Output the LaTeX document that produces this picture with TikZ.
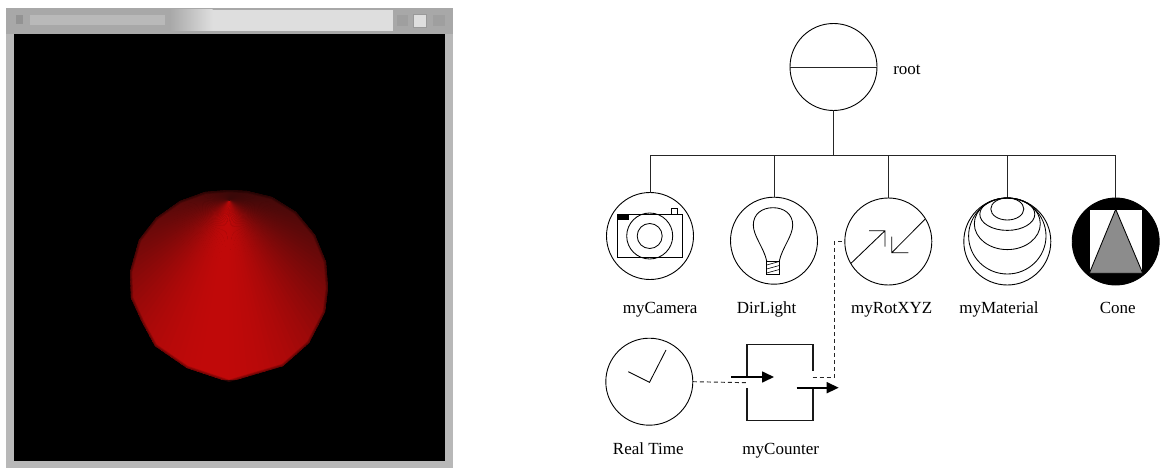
\documentclass[tikz,border=0pt]{standalone}
\usepackage{fontspec}
\setmainfont{Liberation Serif}
\usetikzlibrary{arrows.meta,calc}
\definecolor{frameg}{gray}{0.72}
\definecolor{titlel}{gray}{0.87}
\definecolor{titled}{gray}{0.66}
\definecolor{conedark}{rgb}{0.25,0.03,0.03}
\tikzset{
  x=1pt,y=-1pt,
  inode/.style={circle,draw=black,line width=0.9pt,minimum size=87pt,inner sep=0pt,outer sep=0pt},
  wire/.style={draw=black!85,line width=0.95pt},
  icon/.style={draw=black,line width=0.85pt},
  lbl/.style={font=\fontsize{17}{20}\selectfont,anchor=base,inner sep=0pt},
  dashwire/.style={draw=black!85,line width=0.95pt,dash pattern=on 4pt off 3pt},
  boxline/.style={draw=black!90,line width=1.7pt},
  flow/.style={draw=black,line width=1.6pt,-{Triangle[length=12pt,width=11pt]}},
}
\begin{document}
\begin{tikzpicture}
\useasboundingbox (0,0) rectangle (1161,468);
% ---- viewer window ----
\fill[frameg] (6,8) rectangle (453,468);
\fill[titled] (6,8) rectangle (453,34);
\fill[titlel] (212,10) rectangle (393,31);
\shade[left color=titled,right color=titlel] (170,10) rectangle (212.5,31);
\fill[black] (14,34) rectangle (445,461);
\fill[gray!85] (16,15) rectangle (23,24);
\fill[gray!55] (30,15) rectangle (165,25);
\fill[gray!75] (397,15) rectangle (408,26);
\draw[gray!80,fill=titlel] (413,14) rectangle (426,27);
\fill[gray!75] (433,15) rectangle (445,26);
% cone: fan of wedges around the apex, clipped to the base disc
\begin{scope}
\clip (229,190) -- (247,191) -- (272,197) -- (296,212) -- (315,235) -- (326,262) -- (328,288) -- (325,312) -- (309,343) -- (283,366) -- (229,382) -- (187,368) -- (155,346) -- (142,322) -- (131,298) -- (130,272) -- (139,240) -- (156,218) -- (180,201) -- (205,192) -- cycle;
\fill[conedark] (125,185) rectangle (335,390);
\foreach \a in {0,2,...,358}{
  \pgfmathsetmacro{\s}{sin(\a+1)}
  \pgfmathsetmacro{\c}{cos(\a+1)}
  \pgfmathsetmacro{\t}{acos(\s)/62}
  \pgfmathsetmacro{\r}{(0.24+0.51*exp(-\t*\t))*(1-0.10*\c)}
  \definecolor{wc}{rgb}{\r,0.035,0.035}
  \fill[wc] (229,200) -- ++(\a:180) -- ++(\a+91:8) -- cycle;
}
% soft dark edge
\foreach \i in {1,2,3}{
  \draw[black,opacity=.15,line width=\i*1.5pt] (229,190) -- (247,191) -- (272,197) -- (296,212) -- (315,235) -- (326,262) -- (328,288) -- (325,312) -- (309,343) -- (283,366) -- (229,382) -- (187,368) -- (155,346) -- (142,322) -- (131,298) -- (130,272) -- (139,240) -- (156,218) -- (180,201) -- (205,192) -- cycle;
}
\end{scope}
% ---- scene graph ----
\node[inode] (root) at (833.5,67) {};
\draw[wire] (root.west) -- (root.east);
\node[lbl] (rootl) at (907,75) {root};
\node[inode] (cam) at (650,236) {};
\node[inode] (light) at (774,240.7) {};
\node[inode] (rot) at (888.3,241.5) {};
\node[inode] (mat) at (1007.3,241.5) {};
\node[inode,fill=black] (cone) at (1115.7,241.5) {};
\node[inode] (clock) at (649.3,381.7) {};
\coordinate (busl) at (cam.north |- 0,155);
\coordinate (busr) at (cone.north |- 0,155);
\coordinate (busm) at (root.south |- 0,155);
\draw[wire] (busl) -- (busr);
\draw[wire] (root.south) -- (busm);
\foreach \n in {cam,light,rot,mat,cone}{\draw[wire] (\n.north) -- (\n.north |- 0,155);}
% camera icon
\draw[icon] (617.3,214.3) rectangle (682.3,257.7);
\fill[black] (617.3,214.3) rectangle (628.7,220);
\draw[icon] (671.7,214.3) rectangle (677.7,208.7);
\draw[icon] (649.7,236) circle[radius=23];
\draw[icon] (649.7,236) circle[radius=12.5];
% bulb icon
\draw[icon] (766.7,261) .. controls (764,248) and (753.3,236) .. (753.3,225) .. controls (753.3,214) and (762,207.7) .. (773,207.7) .. controls (784,207.7) and (792.7,214) .. (792.7,225) .. controls (792.7,236) and (782,248) .. (779.3,261);
\draw[icon] (766.7,261) rectangle (779.3,274.3);
\draw[icon,line width=.6pt] (766.7,265) -- (779.3,261.5) (766.7,269) -- (779.3,265.5) (766.7,273) -- (779.3,269.5);
% rotation icon
\draw[icon] (851,263.3) -- (885,230.7) (869,230.7) -- (885,230.7) -- (885,246.7);
\draw[icon] (925,219.3) -- (891.7,252.7) (908.3,252.7) -- (891.7,252.7) -- (891.7,236.7);
% material icon
\draw[icon] (1007.3,209) ellipse[x radius=16.5,y radius=11];
\draw[icon] (1007.3,214.2) ellipse[x radius=27.5,y radius=16.2];
\draw[icon] (1007.3,223.8) ellipse[x radius=33,y radius=25.8];
\draw[icon] (1007.3,236) ellipse[x radius=38.7,y radius=38];
% cone icon
\fill[white] (1089.3,209.3) rectangle (1142.7,273.3);
\draw[icon,line width=.6pt] (1089.3,209.3) rectangle (1142.7,273.3);
\draw[icon,fill=black!45] (1115.7,209.3) -- (1142.7,273.3) -- (1089.3,273.3) -- cycle;
% clock hands
\draw[icon] (666,350) -- (649.5,382.3) -- (628.3,371.7);
% counter
\coordinate (boxtl) at (747,344.5);
\coordinate (boxtr) at (812.7,344.5);
\coordinate (boxbl) at (747,420.5);
\coordinate (boxbr) at (812.7,420.5);
\coordinate (inpt) at (747.7,382.7);
\coordinate (outpt) at (812.7,377);
\draw[boxline] (747,376) -- (boxtl) -- (boxtr) -- (812.7,371);
\draw[boxline] (747,388) -- (boxbl) -- (boxbr) -- (812.7,388);
\coordinate (ina) at (731,377);
\coordinate (inb) at (774,377);
\coordinate (outa) at (796.7,387.7);
\coordinate (outb) at (838.7,387.7);
\draw[flow] (ina) -- (inb);
\draw[flow] (outa) -- (outb);
\draw[dashwire] (clock.east) -- (inpt);
\coordinate (elbow) at (834.3,377);
\draw[dashwire] (outpt) -- (elbow) -- (elbow |- rot.west) -- (rot.west);
% labels
\node[lbl] (l1) at (660.2,313) {myCamera};
\node[lbl] (l2) at (766.7,313) {DirLight};
\node[lbl] (l3) at (891.7,313) {myRotXYZ};
\node[lbl] (l4) at (999,313) {myMaterial};
\node[lbl] (l5) at (1117.7,313) {Cone};
\node[lbl] (l6) at (648.3,454) {Real Time};
\node[lbl] (l7) at (780.7,454) {myCounter};
\end{tikzpicture}
\end{document}
